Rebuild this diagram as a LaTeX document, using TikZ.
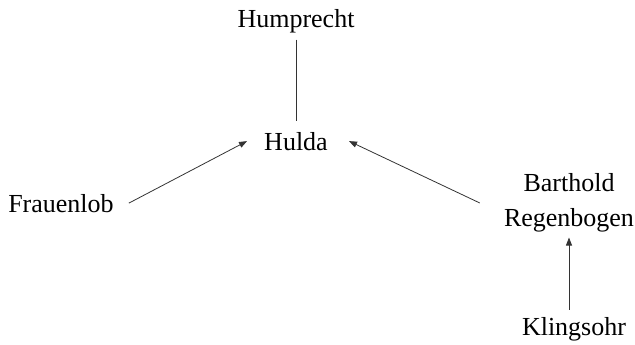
\documentclass[tikz,border=0pt]{standalone}
\usepackage{fontspec}
\setmainfont{Liberation Serif}
\usetikzlibrary{arrows.meta}

\begin{document}
\begin{tikzpicture}[x=1pt, y=-1pt, every node/.style={inner sep=0pt, font=\fontsize{26}{35}\selectfont},
        link/.style={draw=black!80, line width=0.8pt},
        arr/.style={link, -{Triangle[length=8pt,width=6pt]}}]
            \useasboundingbox (0,0) rectangle (635,345);
            \node[anchor=base] (humprecht) at (296,28) {Humprecht};
            \node[anchor=base] (hulda) at (296,150) {Hulda};
            \node[anchor=base] (frauenlob) at (61,212) {Frauenlob};
            \node[align=center] (barthold) at (569,203) {Barthold\\Regenbogen};
            \node[anchor=base] (klingsohr) at (574,335) {Klingsohr};

            \draw[link, shorten <=6pt, shorten >=11pt] (humprecht.south) -- (hulda.north);
            \draw[arr] ([xshift=15pt]frauenlob.east) -- ([xshift=-17pt]hulda.west);
            \draw[arr] ([xshift=-24pt]barthold.west) -- ([xshift=21pt]hulda.east);
            \draw[arr, shorten <=7pt, shorten >=5pt] (barthold.south |- klingsohr.north) -- (barthold.south);
        \end{tikzpicture}
\end{document}
